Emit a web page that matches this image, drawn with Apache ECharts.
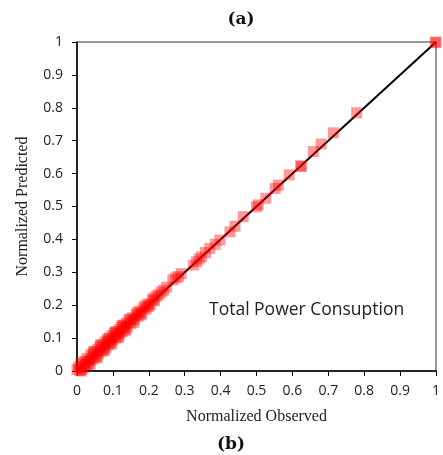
<!DOCTYPE html>
<html><head><meta charset="utf-8">
<script src="https://cdn.jsdelivr.net/npm/echarts@6/dist/echarts.min.js"></script>
<style>html,body{margin:0;padding:0;background:#fff}#c{width:443px;height:455px}</style>
</head><body><div id="c"></div>
<script>
var xTicks = ['0','0.1','0.2','0.3','0.4','0.5','0.6','0.7','0.8','0.9','1'];
var observed = [0.000,0.004,0.008,0.010,0.014,0.018,0.020,0.024,0.028,0.030,0.034,0.038,0.040,0.044,0.048,0.050,0.054,0.058,0.060,0.064,0.068,0.070,0.074,0.078,0.080,0.084,0.088,0.090,0.094,0.098,0.100,0.104,0.108,0.110,0.114,0.118,0.120,0.124,0.128,0.130,0.134,0.138,0.140,0.145,0.150,0.155,0.160,0.165,0.170,0.175,0.180,0.186,0.192,0.198,0.204,0.210,0.216,0.222,0.228,0.235,0.242,0.250,0.267,0.275,0.282,0.290,0.324,0.333,0.340,0.347,0.358,0.370,0.385,0.398,0.426,0.440,0.463,0.500,0.505,0.526,0.552,0.561,0.591,0.623,0.625,0.658,0.680,0.714,0.779,0.998,1.000,
  0.012,0.022,0.036,0.046,0.056,0.066,0.076,0.086,0.096,0.106,0.116,0.126,0.136,0.148,0.158,0.168,0.178,0.190,0.200,0.214];
var predicted = [0.004,0.012,0.002,0.020,0.006,0.026,0.012,0.018,0.038,0.022,0.030,0.048,0.034,0.052,0.040,0.060,0.046,0.066,0.052,0.074,0.060,0.078,0.066,0.088,0.072,0.092,0.080,0.100,0.086,0.108,0.094,0.114,0.100,0.120,0.106,0.126,0.114,0.134,0.120,0.140,0.128,0.146,0.134,0.155,0.144,0.162,0.156,0.172,0.166,0.182,0.176,0.192,0.188,0.204,0.202,0.216,0.214,0.228,0.232,0.240,0.246,0.255,0.277,0.283,0.287,0.296,0.322,0.332,0.340,0.347,0.360,0.373,0.385,0.398,0.423,0.440,0.469,0.499,0.505,0.525,0.555,0.565,0.596,0.623,0.622,0.667,0.690,0.724,0.785,0.998,1.000,
  0.000,0.030,0.020,0.058,0.040,0.080,0.062,0.098,0.082,0.118,0.102,0.138,0.124,0.158,0.148,0.178,0.170,0.198,0.196,0.222];
var fitLine = [[0,0],[1,1]];
var pts = observed.map(function(v,i){return [v,predicted[i]];});
var chart = echarts.init(document.getElementById('c'));
var tickFont = {fontFamily:'Open Sans', fontSize:14, color:'#222'};
var fmt = function(v){return xTicks[Math.round(v*10)];};
chart.setOption({
  animation:false,
  title:[
    {text:'(a)', left:236, top:6, textAlign:'center', textStyle:{fontFamily:'DejaVu Serif', fontWeight:'bold', fontSize:17, color:'#111'}},
    {text:'(b)', left:226, top:431, textAlign:'center', textStyle:{fontFamily:'DejaVu Serif', fontWeight:'bold', fontSize:17, color:'#111'}}
  ],
  grid:{left:77, right:7, top:42, bottom:84, show:true, borderColor:'#333', borderWidth:1},
  xAxis:{type:'value', min:0, max:1, interval:0.1,
    name:'Normalized Observed', nameLocation:'middle', nameGap:38,
    nameTextStyle:{fontFamily:'Liberation Serif', fontSize:16, color:'#222'},
    axisLine:{lineStyle:{color:'#000', width:1.5}},
    axisTick:{show:true, length:5, lineStyle:{color:'#000'}},
    axisLabel:Object.assign({margin:13, formatter:fmt}, tickFont),
    splitLine:{show:false}},
  yAxis:{type:'value', min:0, max:1, interval:0.1,
    name:'Normalized Predicted', nameLocation:'middle', nameGap:46,
    nameTextStyle:{fontFamily:'Liberation Serif', fontSize:16, color:'#222'},
    axisLine:{show:true, lineStyle:{color:'#000', width:1.5}},
    axisTick:{show:true, length:5, lineStyle:{color:'#000'}},
    axisLabel:Object.assign({margin:14, formatter:fmt}, tickFont),
    splitLine:{show:false}},
  graphic:[{type:'text', left:209, top:301, style:{text:'Total Power Consuption', font:'17.5px "Open Sans"', fill:'#222'}}],
  series:[
    {type:'line', data:fitLine, symbol:'none', lineStyle:{color:'#000', width:2}, z:2},
    {type:'scatter', data:pts, symbol:'rect', symbolSize:11, clip:false, itemStyle:{color:'rgba(255,0,0,0.5)'}, z:3}
  ]
});
</script></body></html>
